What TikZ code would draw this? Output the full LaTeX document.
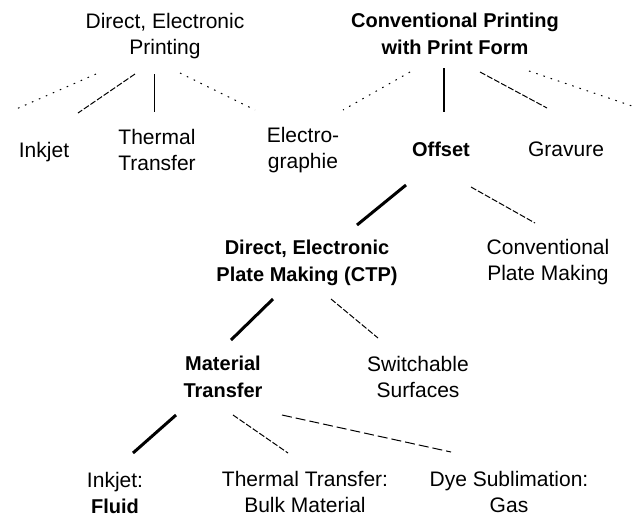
\documentclass[tikz,border=0pt]{standalone}
\usepackage{fontspec}
\setmainfont{Liberation Sans}

\tikzset{
  lbl/.style={align=center, inner sep=0pt, font=\fontsize{10.5}{13.3}\selectfont},
  lblb/.style={lbl, font=\fontsize{10}{13.3}\selectfont\bfseries},
  dotline/.style={line width=0.5pt, dash pattern=on 0.8pt off 3pt},
  fineline/.style={line width=0.5pt},
  dashline/.style={line width=0.5pt, dash pattern=on 3pt off 1pt},
  longdash/.style={line width=0.5pt, dash pattern=on 5pt off 2pt},
  thickline/.style={line width=1.5pt},
}

\begin{document}
\begin{tikzpicture}[x=0.5pt, y=-0.5pt]
 \fill[white] (0,0) rectangle (637,521);

 \node[lbl] (dep) at (165,36) {Direct, Electronic\\Printing};
 \node[lblb] (cpf) at (455,34) {Conventional Printing\\with Print Form};

 \node[lbl] (ink) at (44,152) {Inkjet};
 \node[lbl] (thm) at (157,150) {Thermal\\Transfer};
 \node[lbl] (elg) at (303,150) {Electro-\\graphie};
 \node[lblb] (off) at (441,149) {Offset};
 \node[lbl] (grv) at (566,149) {Gravure};
 \coordinate (offl) at (14,110);
 \coordinate (offr) at (635,107);

 \node[lblb] (ctp) at (307,263) {Direct, Electronic\\Plate Making (CTP)};
 \node[lbl] (cpm) at (548,262) {Conventional\\Plate Making};

 \node[lblb] (mat) at (223,377) {Material\\Transfer};
 \node[lbl] (swi) at (418,377) {Switchable\\Surfaces};

 \node[lbl] (ijf) at (115,493) {Inkjet:\\\textbf{\fontsize{10}{13.3}\selectfont Fluid}};
 \node[lbl] (ttb) at (305,492) {Thermal Transfer:\\Bulk Material};
 \node[lbl] (dye) at (509,492) {Dye Sublimation:\\Gas};

 % direct printing
 \draw[dotline] ([shift={(-69,38)}]dep.center) -- (offl);
 \draw[dashline] ([shift={(-30,38)}]dep.center) -- ([shift={(34,-39)}]ink.center);
 \draw[fineline] ([shift={(-11,38)}]dep.center) -- ([shift={(-3,-38)}]thm.center);
 \draw[dotline] ([shift={(15,37)}]dep.center) -- ([shift={(-48,-40)}]elg.center);

 % printing with print form
 \draw[dotline] ([shift={(-45,38)}]cpf.center) -- ([shift={(40,-40)}]elg.center);
 \draw[line width=1pt] ([shift={(-11,34)}]cpf.center) -- ([shift={(3,-37)}]off.center);
 \draw[dashline] ([shift={(25,38)}]cpf.center) -- ([shift={(-19,-41)}]grv.center);
 \draw[dotline] ([shift={(74,37)}]cpf.center) -- (offr);

 % plate making
 \draw[thickline] ([shift={(-35,36)}]off.center) -- ([shift={(50,-38)}]ctp.center);
 \draw[dashline] ([shift={(30,38)}]off.center) -- ([shift={(-13,-39)}]cpm.center);
 \draw[thickline] ([shift={(-34,36)}]ctp.center) -- ([shift={(8,-37)}]mat.center);
 \draw[dashline] ([shift={(24,36)}]ctp.center) -- ([shift={(-40,-39)}]swi.center);

 % material transfer
 \draw[thickline] ([shift={(-47,38)}]mat.center) -- ([shift={(18,-40)}]ijf.center);
 \draw[dashline] ([shift={(10,38)}]mat.center) -- ([shift={(-17,-39)}]ttb.center);
 \draw[longdash] ([shift={(59,38)}]mat.center) -- ([shift={(-58,-40)}]dye.center);
\end{tikzpicture}
\end{document}
